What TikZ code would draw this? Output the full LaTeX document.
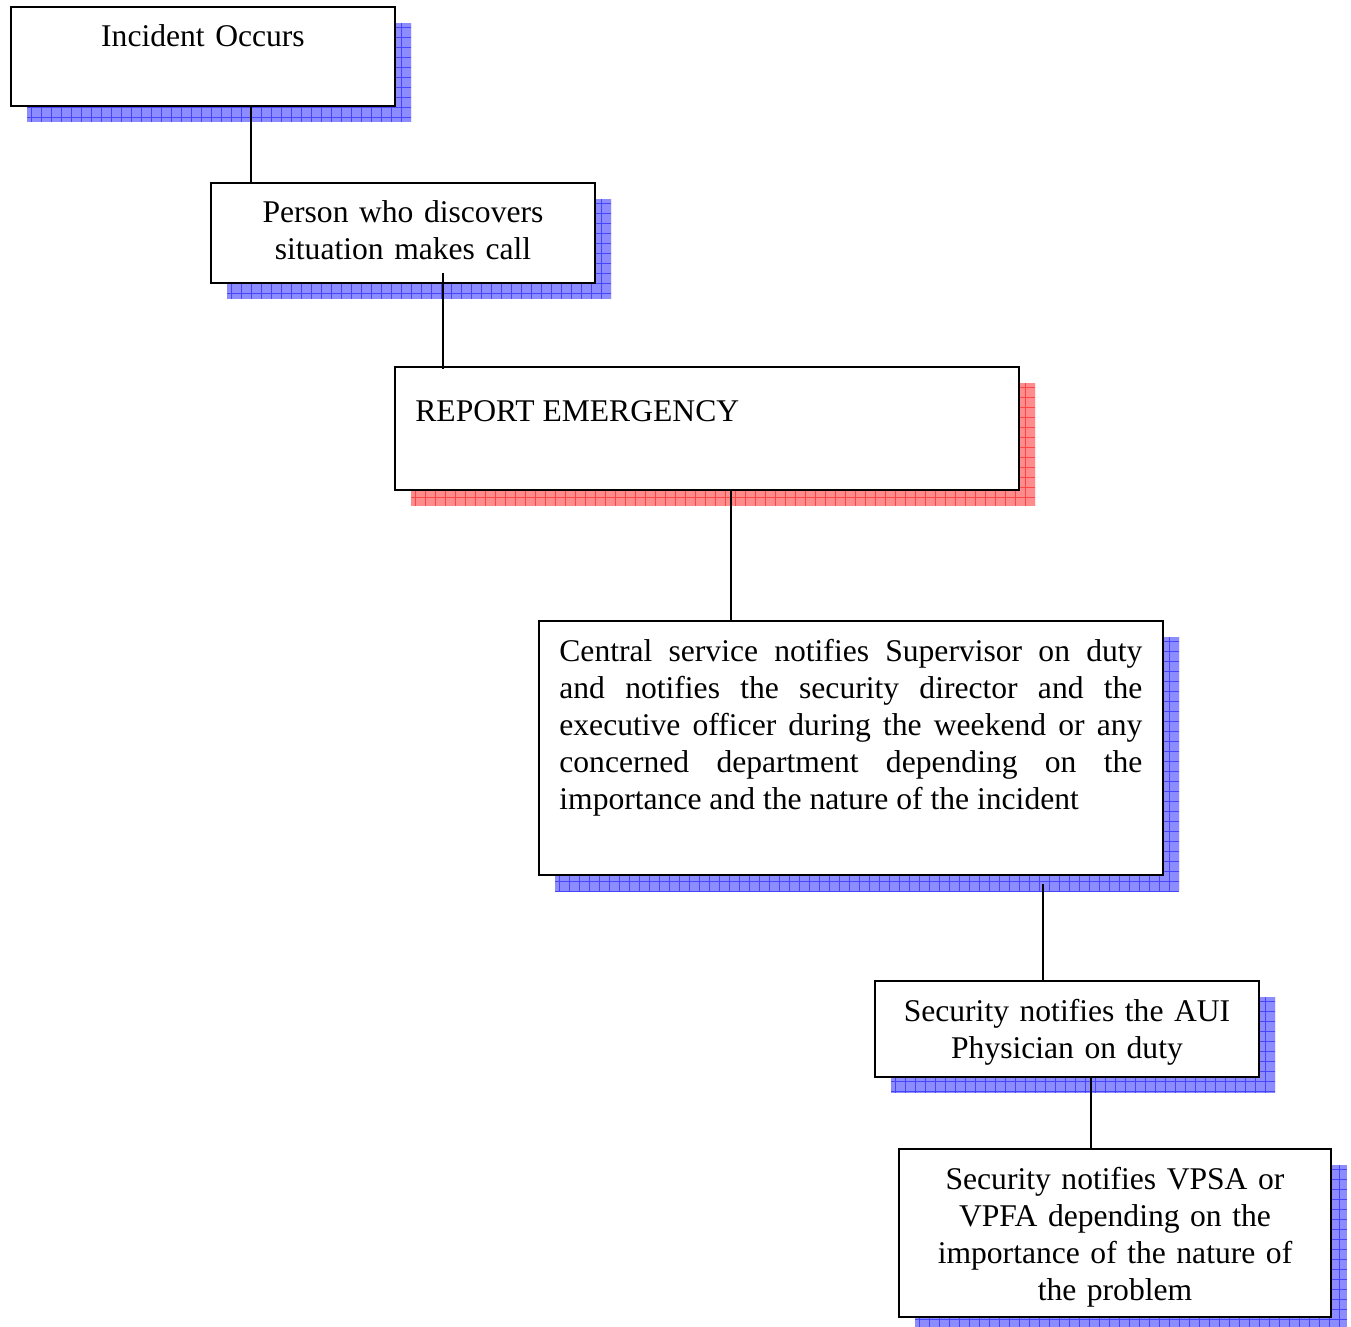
\documentclass[tikz,border=0pt]{standalone}
\usepackage{fontspec}
\setmainfont{Liberation Serif}
\usetikzlibrary{fit,calc}
\definecolor{shb}{HTML}{8C8CFF}
\definecolor{shbl}{HTML}{4646FF}
\definecolor{shr}{HTML}{FF8C8C}
\definecolor{shrl}{HTML}{FF4646}
\newcommand\gridshadow[6]{%
  \begin{scope}
    \clip (#1,#2) rectangle (#3,#4);
    \fill[#5] (#1,#2) rectangle (#3,#4);
    \foreach \k in {0,...,66} {\draw[#6,line width=0.45pt] ({#1+\k*10+4},#2) -- ({#1+\k*10+4},#4);}
    \foreach \k in {0,...,28} {\draw[#6,line width=0.45pt] (#1,{#2+\k*10+4}) -- (#3,{#2+\k*10+4});}
  \end{scope}}
\tikzset{
  box/.style={draw=black, line width=1pt, fill=white, inner sep=0pt, rectangle},
  lbl/.style={inner sep=0pt, font=\fontsize{15.8}{18.5}\selectfont},
  conn/.style={draw=black, line width=1pt},
}
\begin{document}
\begin{tikzpicture}[x=0.5pt,y=-0.5pt]
\useasboundingbox (0,0) rectangle (1351,1327);
% shadows
\gridshadow{27}{23}{411}{122}{shb}{shbl}
\gridshadow{227}{199}{611}{299}{shb}{shbl}
\gridshadow{411}{383}{1035}{506}{shr}{shrl}
\gridshadow{555}{637}{1179}{891}{shb}{shbl}
\gridshadow{891}{997}{1275}{1093}{shb}{shbl}
\gridshadow{915}{1165}{1347}{1333}{shb}{shbl}
% boxes
\node[box, fit={(11,7) (395,106)}] (b1) {};
\node[box, fit={(211,183) (595,283)}] (b2) {};
\node[box, fit={(395,367) (1019,490)}] (b3) {};
\node[box, fit={(539,621) (1163,875)}] (b4) {};
\node[box, fit={(875,981) (1259,1077)}] (b5) {};
\node[box, fit={(899,1149) (1331,1317)}] (b6) {};
% labels
\node[lbl, anchor=base, text width=180pt, align=center] (t1) at (203,47) {Incident Occurs};
\node[lbl, anchor=base, text width=180pt, align=center] (t2) at (403,223) {Person who discovers\\situation makes call};
\node[lbl, anchor=base west] (t3) at (415,421) {REPORT EMERGENCY};
\node[lbl, anchor=base west, text width=291.5pt, align=justify] (t4) at (559,661) {\hyphenpenalty=10000 Central service notifies Supervisor on duty\linebreak and notifies the security director and the\linebreak executive officer during the weekend or any\linebreak concerned department depending on the\linebreak importance and the nature of the incident};
\node[lbl, anchor=base, text width=185pt, align=center] (t5) at (1067,1021) {Security notifies the AUI\\Physician on duty};
\node[lbl, anchor=base, text width=205pt, align=center] (t6) at (1115,1189) {Security notifies VPSA or\\VPFA depending on the\\importance of the nature of\\the problem};
% connectors
\coordinate (c1) at (251,106);
\coordinate (c2) at (443,273);
\coordinate (c3) at (731,490);
\coordinate (c4) at (1043,884);
\coordinate (c5) at (1091,1077);
\draw[conn] (c1) -- (c1 |- b2.north);
\draw[conn] (c2) -- ($(c2 |- b3.north)+(0,3)$);
\draw[conn] (c3) -- (c3 |- b4.north);
\draw[conn] (c4) -- (c4 |- b5.north);
\draw[conn] (c5) -- (c5 |- b6.north);
\end{tikzpicture}
\end{document}
